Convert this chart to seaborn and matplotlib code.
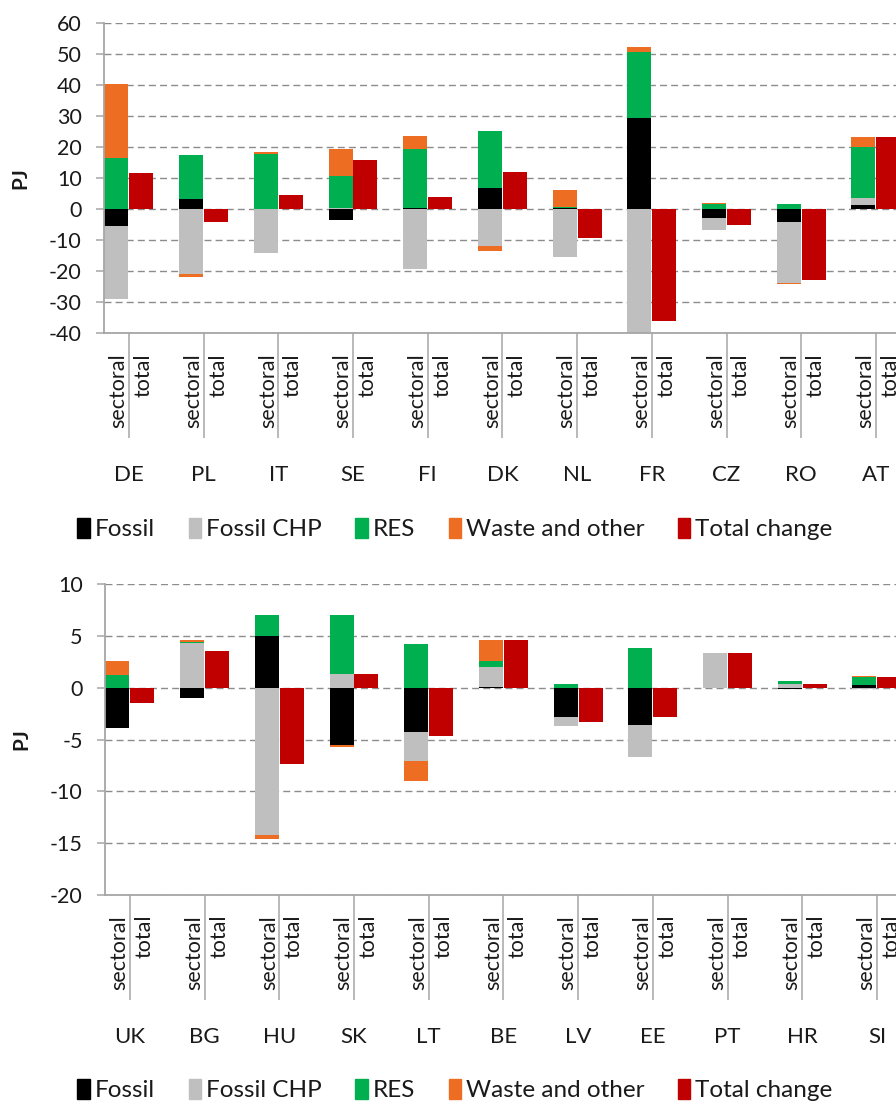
import matplotlib.pyplot as plt
import matplotlib.ticker as ticker
from matplotlib.patches import Patch
import seaborn as sns
import numpy as np

# values (PJ)
top_countries = ['DE', 'PL', 'IT', 'SE', 'FI', 'DK', 'NL', 'FR', 'CZ', 'RO', 'AT']
top_fossil = [-5.3, 3.2, 0.0, -3.4, 0.4, 6.8, 0.3, 29.2, -3.0, -4.1, 1.4]
# FR Fossil CHP runs past the -40 axis limit (clipped in the original too)
top_fossil_chp = [-23.6, -20.8, -14.2, 0.4, -19.3, -12.0, -15.3, -88.2, -3.6, -19.7, 2.1]
top_res = [16.6, 14.1, 17.7, 10.3, 18.9, 18.3, 0.4, 21.4, 1.6, 1.6, 16.5]
top_waste = [23.7, -1.1, 0.6, 8.6, 4.1, -1.4, 5.5, 1.7, 0.5, -0.4, 3.1]
top_total = [11.7, -4.2, 4.5, 15.7, 3.9, 11.9, -9.3, -35.9, -5.2, -22.7, 23.2]

bot_countries = ['UK', 'BG', 'HU', 'SK', 'LT', 'BE', 'LV', 'EE', 'PT', 'HR', 'SI']
bot_fossil = [-3.9, -0.96, 5.0, -5.55, -4.25, 0.1, -2.85, -3.6, 0.0, -0.15, 0.25]
bot_fossil_chp = [0.0, 4.3, -14.25, 1.3, -2.8, 1.85, -0.85, -3.05, 3.35, 0.35, -0.1]
bot_res = [1.25, 0.13, 2.05, 5.7, 4.25, 0.6, 0.4, 3.8, 0.0, 0.25, 0.75]
bot_waste = [1.3, 0.13, -0.3, -0.15, -1.95, 2.0, 0.0, 0.0, 0.0, 0.0, 0.15]
bot_total = [-1.45, 3.5, -7.4, 1.3, -4.65, 4.55, -3.3, -2.85, 3.35, 0.4, 1.0]

series_names = ['Fossil', 'Fossil CHP', 'RES', 'Waste and other']
series_colors = ['#000000', '#BFBFBF', '#00B050', '#ED6D23']
total_name = 'Total change'
total_color = '#C00000'

sns.set_theme(style='white')
plt.rcParams['font.family'] = ['Lato', 'DejaVu Sans']
plt.rcParams['font.size'] = 15
plt.rcParams['axes.unicode_minus'] = False

AX_COLOR = '#A6A6A6'
TXT = '#1a1a1a'
W, H = 896, 1103


def draw_panel(ax, countries, stacks, total, ylim, ystep):
    n = len(countries)
    ax_h = ax.get_position().height * H
    x_sec = np.arange(n) * 3
    x_tot = x_sec + 1

    pos = np.zeros(n)
    neg = np.zeros(n)
    for vals, color in zip(stacks, series_colors):
        vals = np.asarray(vals, dtype=float)
        bottom = np.where(vals >= 0, pos, neg)
        ax.bar(x_sec, vals, bottom=bottom, width=0.96, color=color, linewidth=0)
        pos = pos + np.clip(vals, 0, None)
        neg = neg + np.clip(vals, None, 0)
    ax.bar(x_tot, total, width=0.96, color=total_color, linewidth=0)

    ax.set_xlim(-0.5, 3 * n - 0.5)
    ax.set_ylim(*ylim)
    ax.yaxis.set_major_locator(ticker.MultipleLocator(ystep))
    ax.yaxis.grid(True, linestyle=(0, (5, 3)), color='#8C8C8C', linewidth=1.0)
    ax.set_axisbelow(True)

    for side in ['top', 'right']:
        ax.spines[side].set_visible(False)
    for side in ['left', 'bottom']:
        ax.spines[side].set_color(AX_COLOR)
        ax.spines[side].set_linewidth(1.3)

    # category separators drawn as long x ticks
    outer = sorted(set(list(x_sec - 0.5) + list(x_tot + 0.5)))
    ax.set_xticks(outer)
    ax.set_xticks(x_sec + 0.5, minor=True)
    ax.tick_params(axis='x', which='major', length=157 * 0.72, width=1.1,
                   color=AX_COLOR, labelbottom=False, direction='out')
    ax.tick_params(axis='x', which='minor', length=105 * 0.72, width=1.1,
                   color=AX_COLOR, labelbottom=False, direction='out', bottom=True)
    ax.tick_params(axis='y', which='major', length=6, width=1.1, color=AX_COLOR,
                   pad=10, labelsize=15.5, labelcolor=TXT, left=True)

    tr = ax.get_xaxis_transform()
    for k, c in enumerate(countries):
        ax.text(x_sec[k] + 0.08, -20 / ax_h, 'sectoral', rotation=90, ha='center',
                va='top', transform=tr, fontsize=15.5, color=TXT)
        ax.text(x_tot[k] + 0.08, -20 / ax_h, 'total', rotation=90, ha='center',
                va='top', transform=tr, fontsize=15.5, color=TXT)
        ax.text(x_sec[k] + 0.5, -142 / ax_h, c, ha='center', va='center',
                transform=tr, fontsize=16, color=TXT)

    ax.set_ylabel('PJ', fontsize=15, fontweight='bold', color=TXT)
    ax.yaxis.set_label_coords(-74 / (ax.get_position().width * W), 0.5)


fig = plt.figure(figsize=(W / 100, H / 100), dpi=100)
slot = 24.9
ax_w = 33 * slot
ax_top = fig.add_axes([104 / W, 1 - 333.3 / H, ax_w / W, 310.6 / H])
ax_bot = fig.add_axes([105 / W, 1 - 895 / H, ax_w / W, 311 / H])

draw_panel(ax_top, top_countries, [top_fossil, top_fossil_chp, top_res, top_waste],
           top_total, (-40, 60), 10)
draw_panel(ax_bot, bot_countries, [bot_fossil, bot_fossil_chp, bot_res, bot_waste],
           bot_total, (-20, 10), 5)

handles = [Patch(color=c, label=l) for c, l in zip(series_colors, series_names)]
handles.append(Patch(color=total_color, label=total_name))
for yc in [529, 1090]:
    leg = fig.legend(handles=handles, loc='center', bbox_to_anchor=(455 / W, 1 - yc / H),
                     ncol=5, frameon=False, fontsize=17.5, handlelength=0.5,
                     handleheight=0.9, handletextpad=0.2, columnspacing=1.4,
                     borderaxespad=0)
    for t in leg.get_texts():
        t.set_color(TXT)

fig.savefig('out.png', dpi=100)
